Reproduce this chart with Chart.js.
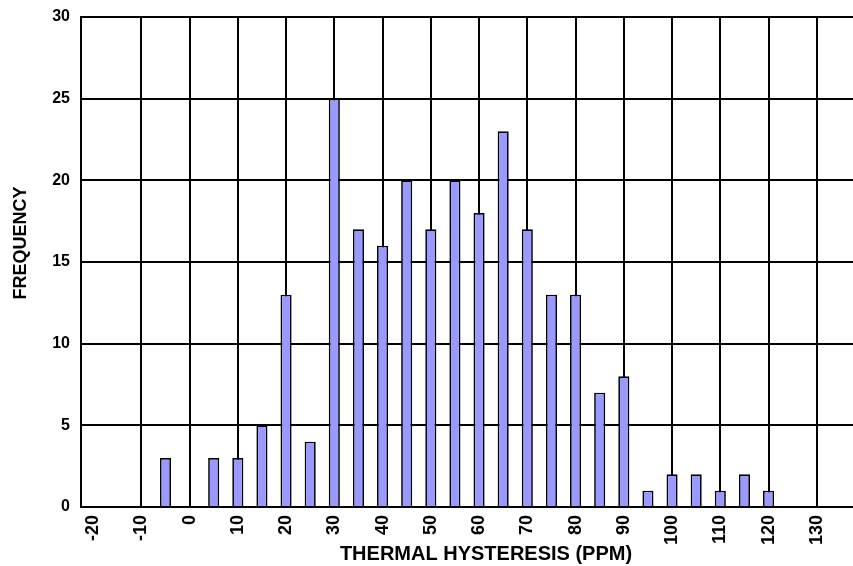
<!DOCTYPE html>
<html>
<head>
<meta charset="utf-8">
<title>Thermal hysteresis histogram</title>
<script src="https://cdn.jsdelivr.net/npm/chart.js@4.4.0/dist/chart.umd.min.js"></script>
<style>
    html, body { margin: 0; padding: 0; background: #fff; }
    #wrap { width: 853px; height: 566px; }
</style>
</head>
<body>
<div id="wrap"><canvas id="hist" width="853" height="566"></canvas></div>
<script>
// bin centres (ppm), 5 ppm wide; the last one is only there for the cropped right edge
const bins = [-20, -15, -10, -5, 0, 5, 10, 15, 20, 25, 30, 35, 40, 45, 50, 55,
              60, 65, 70, 75, 80, 85, 90, 95, 100, 105, 110, 115, 120, 125, 130, 135];
const frequency = [0, 0, 0, 3, 0, 3, 3, 5, 13, 4, 25, 17, 16, 20, 17, 20,
                   18, 23, 17, 13, 13, 7, 8, 1, 2, 2, 1, 2, 1, 0, 0, 0];
// only every 10 ppm gets a label
const xTickLabels = ['-20', '', '-10', '', '0', '', '10', '', '20', '', '30', '', '40', '', '50', '',
                     '60', '', '70', '', '80', '', '90', '', '100', '', '110', '', '120', '', '130', ''];
const yTicks = [0, 5, 10, 15, 20, 25, 30];

const xTitle = 'THERMAL HYSTERESIS (PPM)';
const yTitle = 'FREQUENCY';

document.addEventListener('DOMContentLoaded', () => {
    const ctx = document.getElementById('hist').getContext('2d');
    const font = 'Liberation Sans, Arial, sans-serif';

    // axis titles sit a little off-centre in the original, so draw them by hand
    const axisTitles = {
        id: 'axisTitles',
        afterDraw(chart) {
            const c = chart.ctx;
            c.save();
            c.fillStyle = '#000';
            c.textAlign = 'center';
            c.textBaseline = 'middle';
            c.font = 'bold 20px ' + font;
            c.fillText(xTitle, 486, 554);
            c.translate(21, 243);
            c.rotate(-Math.PI / 2);
            c.font = 'bold 18px ' + font;
            c.fillText(yTitle, 0, 0);
            c.restore();
        }
    };

    new Chart(ctx, {
        type: 'bar',
        data: {
            labels: bins,
            datasets: [{
                label: 'Frequency',
                data: frequency,
                backgroundColor: '#9999FF',
                borderColor: '#000000',
                borderWidth: 1.7,
                barPercentage: 0.46,
                categoryPercentage: 1.0
            }]
        },
        options: {
            responsive: false,
            animation: false,
            layout: { padding: { top: 17, right: 0, left: 0, bottom: 0 } },
            plugins: {
                legend: { display: false },
                tooltip: { enabled: false }
            },
            scales: {
                x: {
                    offset: true,
                    grid: {
                        offset: false,
                        drawTicks: false,
                        lineWidth: 2,
                        color: (c) => (c.index > 0 && xTickLabels[c.index] !== '') ? '#000' : 'rgba(0,0,0,0)'
                    },
                    border: { color: '#000', width: 2 },
                    ticks: {
                        autoSkip: false,
                        minRotation: 90,
                        maxRotation: 90,
                        padding: 8,
                        color: '#000',
                        font: { family: font, size: 18, weight: 'bold' },
                        callback: (v, i) => xTickLabels[i]
                    },
                    afterFit: (scale) => {
                        scale.height = 59;
                        scale.paddingLeft = 0;
                        scale.paddingRight = 0;
                    }
                },
                y: {
                    min: 0,
                    max: 30,
                    afterBuildTicks: (scale) => { scale.ticks = yTicks.map(v => ({ value: v })); },
                    grid: { drawTicks: false, lineWidth: 2, color: '#000' },
                    border: { color: '#000', width: 2 },
                    ticks: {
                        padding: 11,
                        color: '#000',
                        font: { family: font, size: 16, weight: 'bold' }
                    },
                    afterFit: (scale) => {
                        scale.width = 81;
                        scale.paddingTop = 0;
                        scale.paddingBottom = 0;
                    }
                }
            }
        },
        plugins: [axisTitles]
    });
});
</script>
</body>
</html>
